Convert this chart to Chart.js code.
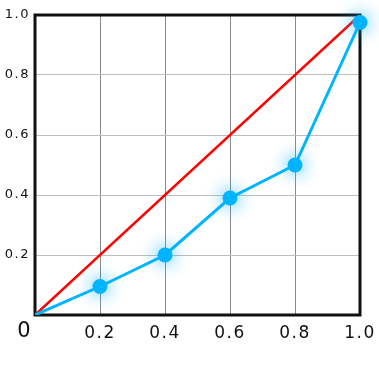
<!DOCTYPE html>
<html>
<head>
<meta charset="utf-8">
<script src="https://cdn.jsdelivr.net/npm/chart.js@4.4.1/dist/chart.umd.min.js"></script>
<style>
  html, body { margin: 0; padding: 0; background: #fff; }
  #wrap { width: 379px; height: 379px; position: relative; }
</style>
</head>
<body>
<div id="wrap"><canvas id="lorenz"></canvas></div>
<script>
// population share vs income share
const lorenzX = [0, 0.2, 0.4, 0.6, 0.8, 1.0];
const lorenzY = [0, 0.095, 0.2, 0.39, 0.5, 0.975];
const equalityX = [0, 1];
const equalityY = [0, 1];
const tickValues = [0, 0.2, 0.4, 0.6, 0.8, 1.0];
const tickLabels = ['0', '0.2', '0.4', '0.6', '0.8', '1.0'];

const BLUE = '#00b4ff';
const RED = '#ff0000';

function toPoints(xs, ys) {
    return xs.map((x, i) => ({ x: x, y: ys[i] }));
}

function labelFor(value) {
    const i = tickValues.findIndex(v => Math.abs(v - value) < 1e-6);
    if (i <= 0) return '';
    return tickLabels[i];
}

// wider letter spacing like the original labels
const spacingPlugin = {
    id: 'spacing',
    beforeUpdate(chart) { chart.ctx.letterSpacing = '1.5px'; },
    beforeDraw(chart) { chart.ctx.letterSpacing = '1.5px'; }
};

// frame around the plot area, drawn under the lines
const framePlugin = {
    id: 'frame',
    beforeDatasetsDraw(chart) {
        const { ctx, chartArea: a } = chart;
        ctx.save();
        ctx.strokeStyle = '#111';
        ctx.lineWidth = 3;
        ctx.strokeRect(a.left, a.top, a.right - a.left, a.bottom - a.top);
        ctx.restore();
    }
};

// the big "0" at the origin
const originPlugin = {
    id: 'originLabel',
    afterDraw(chart) {
        const { ctx } = chart;
        const x = chart.scales.x.getPixelForValue(0);
        const y = chart.scales.y.getPixelForValue(0);
        ctx.save();
        ctx.letterSpacing = '0px';
        ctx.fillStyle = '#111';
        ctx.font = '21px "DejaVu Sans"';
        ctx.textAlign = 'center';
        ctx.textBaseline = 'middle';
        ctx.fillText(tickLabels[0], x - 11, y + 17);
        ctx.restore();
    }
};

// soft glow only on the marker dataset
const glowPlugin = {
    id: 'glow',
    beforeDatasetDraw(chart, args) {
        if (args.index !== 2) return;
        const ctx = chart.ctx;
        ctx.save();
        ctx.shadowColor = 'rgba(0, 175, 255, 1)';
        ctx.shadowBlur = 18;
    },
    afterDatasetDraw(chart, args) {
        if (args.index !== 2) return;
        chart.ctx.restore();
    }
};

new Chart(document.getElementById('lorenz'), {
    type: 'scatter',
    data: {
        datasets: [
            {
                data: toPoints(equalityX, equalityY),
                showLine: true,
                borderColor: RED,
                borderWidth: 2.5,
                pointRadius: 0,
                order: 3
            },
            {
                data: toPoints(lorenzX, lorenzY),
                showLine: true,
                borderColor: BLUE,
                borderWidth: 3,
                pointRadius: 0,
                order: 2
            },
            {
                data: toPoints(lorenzX, lorenzY),
                showLine: false,
                backgroundColor: BLUE,
                borderWidth: 0,
                pointRadius: ctx => ctx.dataIndex === 0 ? 0 : 7.5,
                clip: false,
                order: 1
            }
        ]
    },
    options: {
        responsive: true,
        maintainAspectRatio: false,
        animation: false,
        layout: { padding: { top: 15, right: 19, left: 0, bottom: 0 } },
        plugins: {
            legend: { display: false },
            tooltip: { enabled: false }
        },
        scales: {
            x: {
                type: 'linear',
                min: 0,
                max: 1,
                afterFit: scale => {
                    scale.height = 64;
                    scale.paddingLeft = 0;
                    scale.paddingRight = 0;
                },
                afterBuildTicks: scale => { scale.ticks = tickValues.map(v => ({ value: v })); },
                border: { display: false },
                grid: { color: '#8a8a8a', lineWidth: 1, drawTicks: false },
                ticks: {
                    padding: 8,
                    color: '#111',
                    font: { family: 'DejaVu Sans', size: 17 },
                    maxRotation: 0,
                    callback: labelFor
                }
            },
            y: {
                type: 'linear',
                min: 0,
                max: 1,
                afterFit: scale => {
                    scale.width = 35;
                    scale.paddingTop = 0;
                    scale.paddingBottom = 0;
                },
                afterBuildTicks: scale => { scale.ticks = tickValues.map(v => ({ value: v })); },
                border: { display: false },
                grid: { color: '#bdbdbd', lineWidth: 1, drawTicks: false },
                ticks: {
                    padding: 5,
                    color: '#111',
                    font: { family: 'DejaVu Sans', size: 13 },
                    callback: labelFor
                }
            }
        }
    },
    plugins: [spacingPlugin, framePlugin, originPlugin, glowPlugin]
});
</script>
</body>
</html>
